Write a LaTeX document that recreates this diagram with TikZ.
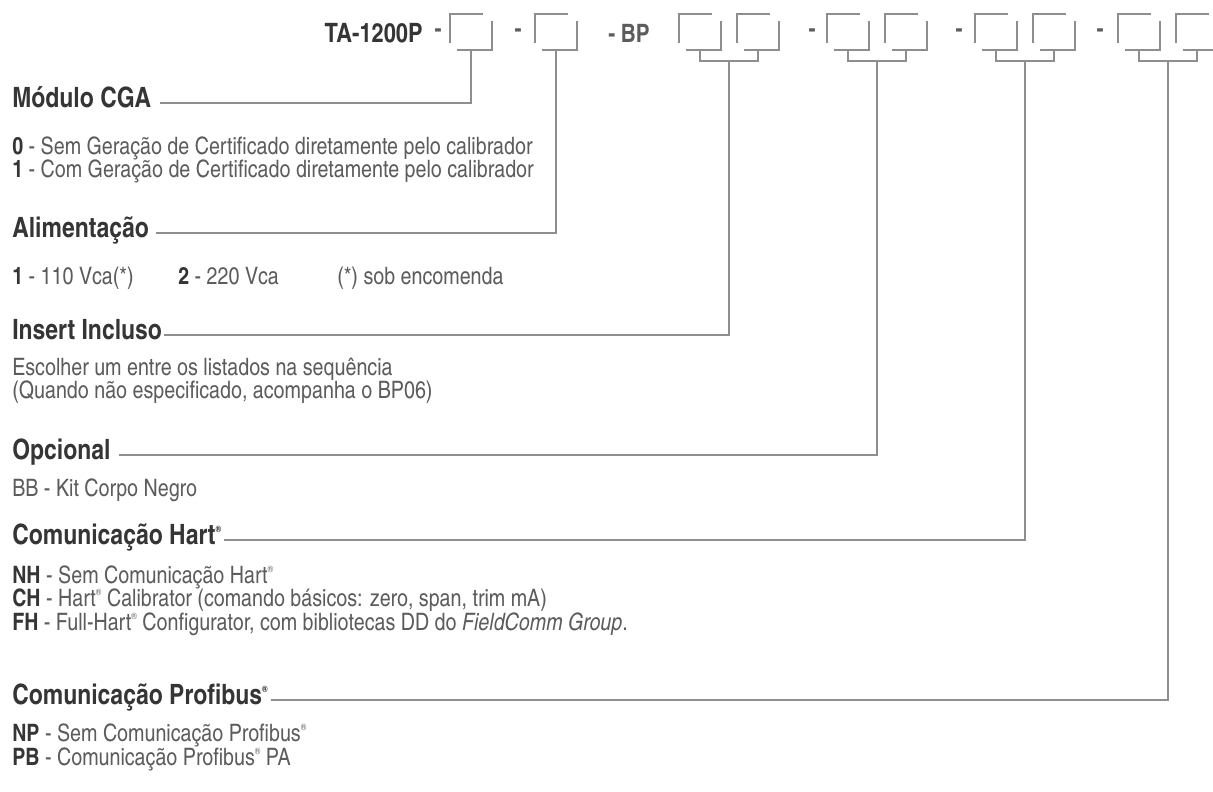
\documentclass[tikz,border=0pt]{standalone}
\usepackage{fontspec}
\setmainfont{texgyreheroscn}[
  Extension=.otf,
  UprightFont=*-regular,
  BoldFont=*-bold,
  ItalicFont=*-italic,
  BoldItalicFont=*-bolditalic]
\definecolor{headgray}{HTML}{353535}
\definecolor{textgray}{HTML}{5C5C5C}
\definecolor{linegray}{HTML}{8E8E8E}
\newcommand{\reg}{\raisebox{0.85ex}{\fontsize{7}{7}\selectfont\textregistered}}
\newcommand{\code}[1]{{\bfseries\color{headgray}#1}}

\begin{document}
\begin{tikzpicture}[
  x=0.75pt,
  y=-0.75pt,
  line join=miter,
  link/.style={draw=linegray,line width=1.1pt},
  model/.style={inner sep=0pt,text=headgray,font=\bfseries\fontsize{20}{22}\selectfont},
  sepdash/.style={inner sep=0pt,text=textgray,font=\bfseries\fontsize{19}{21}\selectfont},
  heading/.style={anchor=west,inner sep=0pt,text=headgray,text height=0.72em,text depth=0pt,
    font=\bfseries\fontsize{21}{24}\selectfont},
  body/.style={anchor=base west,inner sep=0pt,text=textgray,font=\fontsize{18}{20}\selectfont}
]
  \useasboundingbox (0,0) rectangle (1213,792);

  \newcommand{\drawcodebox}[2]{%
    \draw[link] (#1,43) -- (#1,14) -- ({#1+33},14);
    \draw[link] ({#1+42},21) -- ({#1+42},50) -- ({#1+7},50);
    \coordinate (#2) at ({#1+21},50);
  }
  \newcommand{\drawcodepair}[2]{%
    \drawcodebox{#1-50}{#2a}
    \drawcodebox{#1+8}{#2b}
    \coordinate (#2) at (#1,61);
    \draw[link] (#2a) -- ++(0,11) -| (#2b);
  }

  % Order code row.
  \node[model,anchor=east] (model) at (423,33) {TA-1200P};
  \node[sepdash] (d1) at (438,33) {-};
  \drawcodebox{450}{s1}
  \node[sepdash] (d2) at (518,33) {-};
  \drawcodebox{535}{s2}
  \node[sepdash,anchor=west] (d3) at (608,33) {- BP};
  \drawcodepair{729}{pIns}
  \node[sepdash] (d4) at (812,33) {-};
  \drawcodepair{877}{pOpc}
  \node[sepdash] (d5) at (959,33) {-};
  \drawcodepair{1025}{pHart}
  \node[sepdash] (d6) at (1100,33) {-};
  \drawcodepair{1168}{pProf}

  % Module CGA.
  \node[heading] (hCGA) at (12,103) {Módulo CGA};
  \node[body] (b01) at (12,154) {\code{0} - Sem Geração de Certificado diretamente pelo calibrador};
  \node[body] (b02) at (12,177) {\code{1} - Com Geração de Certificado diretamente pelo calibrador};
  \draw[link] ([xshift=6pt]hCGA.east) -| (s1);

  % Supply.
  \node[heading] (hAli) at (12,233) {Alimentação};
  \node[body] (b11) at (12,284) {\code{1} - 110 Vca(*)};
  \node[body] (b12) at (178,284) {\code{2} - 220 Vca};
  \node[body] (b13) at (337,284) {(*) sob encomenda};
  \draw[link] ([xshift=5pt]hAli.east) -| (s2);

  % Insert.
  \node[heading] (hIns) at (12,335) {Insert Incluso};
  \node[body] (b21) at (12,375) {Escolher um entre os listados na sequência};
  \node[body] (b22) at (12,398) {(Quando não especificado, acompanha o BP06)};
  \draw[link] ([xshift=1pt]hIns.east) -| (pIns);

  % Optional.
  \node[heading] (hOpc) at (12,455) {Opcional};
  \node[body] (b31) at (12,496) {BB - Kit Corpo Negro};
  \draw[link] ([xshift=6pt]hOpc.east) -| (pOpc);

  % Hart.
  \node[heading] (hHart) at (12,540) {Comunicação Hart\reg};
  \node[body] (b41) at (12,583) {\code{NH} - Sem Comunicação Hart\reg};
  \node[body] (b42) at (12,606) {\code{CH} - Hart\reg{} Calibrator (comando básicos: zero, span, trim mA)};
  \node[body] (b43) at (12,630) {\code{FH} - Full-Hart\reg{} Configurator, com bibliotecas DD do \textit{FieldComm Group}.};
  \draw[link] ([xshift=2pt]hHart.east) -| (pHart);

  % Profibus.
  \node[heading] (hProf) at (12,700) {Comunicação Profibus\reg};
  \node[body] (b51) at (12,741) {\code{NP} - Sem Comunicação Profibus\reg};
  \node[body] (b52) at (12,765) {\code{PB} - Comunicação Profibus\reg{} PA};
  \draw[link] ([xshift=2pt]hProf.east) -| (pProf);
\end{tikzpicture}
\end{document}
